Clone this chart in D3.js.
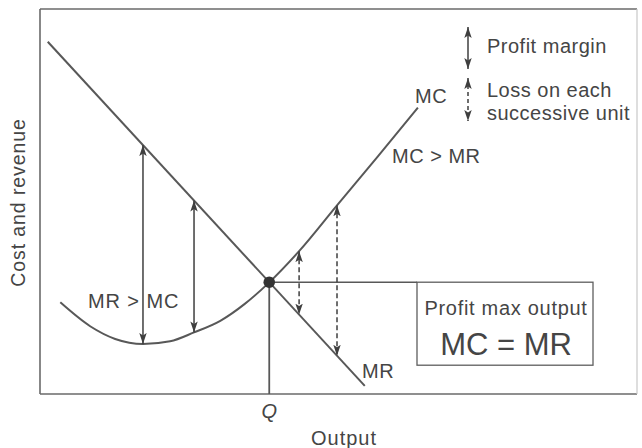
<!DOCTYPE html>
<html>
<head>
<meta charset="utf-8">
<script src="https://cdn.jsdelivr.net/npm/d3@7"></script>
<style>
  html, body { margin: 0; padding: 0; background: #fff; }
  svg { display: block; }
  text { font-family: "Liberation Sans", Arial, Helvetica, sans-serif; fill: #454545; }
</style>
</head>
<body>
<svg id="chart" width="642" height="448"></svg>
<script>
// Marginal cost curve (output, cost) — U-shaped
const mcOutput = [3.4, 8.4, 12.6, 17.25, 21.8, 25.8, 30.2, 34.3, 38.4, 43.4, 49.75, 56.6, 63.3];
const mcCost   = [23.8, 17.6, 14.3, 13.0, 13.7, 16.0, 19.0, 23.4, 29.0, 37.1, 49.0, 61.7, 74.4];

// Marginal revenue line endpoints
const mrOutput = [1.3, 54.4];
const mrCost   = [91.5, 2.1];

// Profit-maximising output Q where MC = MR
const qOutput = 38.4;

// Output levels where the gap between MR and MC is marked
const profitArrowOutputs = [17.25, 25.8];   // MR > MC
const lossArrowOutputs   = [43.4, 49.75];   // MC > MR

// Text
const yTitle = "Cost and revenue";
const xTitle = "Output";
const qLabel = "Q";
const legendLabels = ["Profit margin", "Loss on each", "successive unit"];
const curveLabels = { mc: "MC", mr: "MR", mcGt: "MC > MR", mrGt: "MR > MC" };
const boxLabels = ["Profit max output", "MC = MR"];

const svg = d3.select("#chart");
const plot = { left: 40, right: 637, top: 9, bottom: 394 };

const x = d3.scaleLinear().domain([0, 100]).range([plot.left, plot.right]);
const y = d3.scaleLinear().domain([0, 100]).range([plot.bottom, plot.top]);

const lineCol = "#585858";
const arrowCol = "#3f3f3f";

// MR is a straight line between its endpoints
const mrAt = o => mrCost[0] + (mrCost[1] - mrCost[0]) * (o - mrOutput[0]) / (mrOutput[1] - mrOutput[0]);
const mcAt = o => mcCost[mcOutput.indexOf(o)];

// Arrowhead marker
const defs = svg.append("defs");
defs.append("marker")
  .attr("id", "head")
  .attr("markerUnits", "userSpaceOnUse")
  .attr("viewBox", "0 -4 11 8")
  .attr("refX", 11).attr("refY", 0)
  .attr("markerWidth", 11).attr("markerHeight", 8)
  .attr("orient", "auto-start-reverse")
  .append("path")
  .attr("d", "M0,-3.7 L11,0 L0,3.7 L2.5,0 Z")
  .attr("fill", arrowCol);

// Frame
const frame = [
  [plot.left, plot.top, plot.right, plot.top, "#6a6a6a", 1.6],
  [plot.left, plot.bottom, plot.right, plot.bottom, "#6a6a6a", 1.6],
  [plot.left, plot.top, plot.left, plot.bottom, "#6a6a6a", 1.6],
  [plot.right, plot.top, plot.right, plot.bottom, "#c8c8c8", 1.2]
];
svg.selectAll(".frame").data(frame).join("line")
  .attr("class", "frame")
  .attr("x1", d => d[0]).attr("y1", d => d[1]).attr("x2", d => d[2]).attr("y2", d => d[3])
  .attr("stroke", d => d[4]).attr("stroke-width", d => d[5]);

// MC curve
const mcPts = mcOutput.map((o, i) => [o, mcCost[i]]);
svg.append("path")
  .datum(mcPts)
  .attr("d", d3.line().x(d => x(d[0])).y(d => y(d[1])).curve(d3.curveMonotoneX))
  .attr("fill", "none").attr("stroke", lineCol).attr("stroke-width", 2);

// MR line
svg.append("line")
  .attr("x1", x(mrOutput[0])).attr("y1", y(mrCost[0]))
  .attr("x2", x(mrOutput[1])).attr("y2", y(mrCost[1]))
  .attr("stroke", lineCol).attr("stroke-width", 2);

// Q drop line and horizontal line to the box
const qCost = mrAt(qOutput);
svg.append("line")
  .attr("x1", x(qOutput)).attr("x2", x(qOutput))
  .attr("y1", y(qCost)).attr("y2", plot.bottom)
  .attr("stroke", lineCol).attr("stroke-width", 1.8);

const box = { left: 417, right: 593, height: 83 };
svg.append("line")
  .attr("x1", x(qOutput)).attr("x2", box.left)
  .attr("y1", y(qCost)).attr("y2", y(qCost))
  .attr("stroke", lineCol).attr("stroke-width", 1.6);

svg.append("rect")
  .attr("x", box.left).attr("y", y(qCost))
  .attr("width", box.right - box.left).attr("height", box.height)
  .attr("fill", "#fff").attr("stroke", "#5e5e5e").attr("stroke-width", 1.3);

// Profit margin arrows (solid)
svg.selectAll(".profit")
  .data(profitArrowOutputs)
  .join("line")
  .attr("class", "profit")
  .attr("x1", d => x(d)).attr("x2", d => x(d))
  .attr("y1", d => y(mrAt(d))).attr("y2", d => y(mcAt(d)))
  .attr("stroke", arrowCol).attr("stroke-width", 1.5)
  .attr("marker-start", "url(#head)").attr("marker-end", "url(#head)");

// Loss arrows (dashed)
svg.selectAll(".loss")
  .data(lossArrowOutputs)
  .join("line")
  .attr("class", "loss")
  .attr("x1", d => x(d)).attr("x2", d => x(d))
  .attr("y1", d => y(mcAt(d))).attr("y2", d => y(mrAt(d)))
  .attr("stroke", arrowCol).attr("stroke-width", 1.5)
  .attr("stroke-dasharray", "5,3")
  .attr("marker-start", "url(#head)").attr("marker-end", "url(#head)");

// Intersection point
svg.append("circle")
  .attr("cx", x(qOutput)).attr("cy", y(qCost)).attr("r", 5.8)
  .attr("fill", "#333");

// Legend
const lgX = 468;
svg.append("line").attr("x1", lgX).attr("x2", lgX).attr("y1", 27).attr("y2", 69)
  .attr("stroke", arrowCol).attr("stroke-width", 1.5)
  .attr("marker-start", "url(#head)").attr("marker-end", "url(#head)");
svg.append("line").attr("x1", lgX).attr("x2", lgX).attr("y1", 78).attr("y2", 121)
  .attr("stroke", arrowCol).attr("stroke-width", 1.5).attr("stroke-dasharray", "4,3")
  .attr("marker-start", "url(#head)").attr("marker-end", "url(#head)");

const fs = "20px", ls = "0.5px";
const addText = (t, tx, ty, opts = {}) => svg.append("text")
  .attr("x", tx).attr("y", ty)
  .attr("font-size", opts.size || fs)
  .attr("letter-spacing", opts.ls !== undefined ? opts.ls : ls)
  .attr("text-anchor", opts.anchor || "start")
  .attr("font-style", opts.style || "normal")
  .text(t);

addText(legendLabels[0], 487, 53);
addText(legendLabels[1], 487, 97);
addText(legendLabels[2], 487, 120);

// Curve labels
addText(curveLabels.mc, 415, 103);
addText(curveLabels.mcGt, 392, 163);
addText(curveLabels.mr, 362, 378);
addText(curveLabels.mrGt, 88, 308, { ls: "0.9px" });

// Box labels
const boxCx = (box.left + box.right) / 2 + 1;
addText(boxLabels[0], boxCx, 315, { anchor: "middle", ls: "0.7px" });
addText(boxLabels[1], boxCx, 355, { anchor: "middle", size: "31px", ls: "0px" });

// Axis titles
addText(qLabel, x(qOutput), 418, { anchor: "middle", style: "italic", ls: "0px" });
addText(xTitle, 344, 445, { anchor: "middle", ls: "1px" });
svg.append("text")
  .attr("transform", `translate(25,${(plot.top + plot.bottom) / 2 + 1}) rotate(-90)`)
  .attr("text-anchor", "middle")
  .attr("font-size", "19.5px")
  .attr("letter-spacing", "0.9px")
  .text(yTitle);
</script>
</body>
</html>
